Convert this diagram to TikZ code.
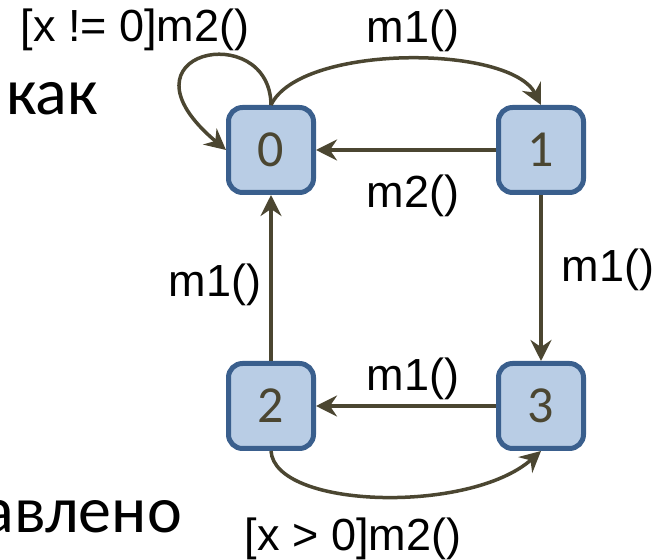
\documentclass[tikz,border=0pt]{standalone}
\usepackage{fontspec}
\setmainfont{Carlito}
\newfontfamily\arialf{Liberation Sans}
\usetikzlibrary{arrows.meta}
\definecolor{edgec}{HTML}{4B4631}
\definecolor{boxline}{HTML}{3A5F8D}
\definecolor{boxfill}{HTML}{B9CDE5}
\tikzset{
  state/.style={draw=boxline, fill=boxfill, line width=5pt, rounded corners=14pt,
    minimum width=85pt, minimum height=85pt, inner sep=0pt, text=edgec,
    font=\fontsize{52}{58}\selectfont},
  trans/.style={draw=edgec, line width=3.5pt, -{Stealth[length=21pt,width=21pt,inset=7pt]}},
  lbl/.style={inner sep=0pt, font=\arialf\fontsize{45}{50}\selectfont, text=black},
  slide/.style={inner sep=0pt, font=\fontsize{66}{70}\selectfont, text=black}
}
\begin{document}
\begin{tikzpicture}[x=1pt,y=1pt]
\useasboundingbox (0,0) rectangle (663,559);
\clip (0,0) rectangle (663,559);
% slide text fragments
\node[slide, anchor=base west] (t1) at (6,444) {как};
\node[slide, anchor=base east] (t2) at (182,27) {авлено};
% states
\node[state] (s0) at (271,409) {0};
\node[state] (s1) at (541,409) {1};
\node[state] (s2) at (271,153) {2};
\node[state] (s3) at (541,153) {3};
% transitions
\draw[trans] (s0.north) .. controls (270,541) and (108,508) .. (s0.west);
\draw[trans] (s0.north) .. controls (300,515) and (510,515) .. (s1.north);
\draw[trans] (s1.west) -- (s0.east);
\draw[trans] (s1.south) -- (s3.north);
\draw[trans] (s3.west) -- (s2.east);
\draw[trans] (s2.north) -- (s0.south);
\draw[trans] (s2.south) .. controls (275,50) and (470,45) .. (s3.south);
% labels
\node[lbl] (l00) at (135,529) {[x != 0]m2()};
\node[lbl] (l01) at (413,528) {m1()};
\node[lbl] (l10) at (413,363) {m2()};
\node[lbl] (l13) at (608,289) {m1()};
\node[lbl] (l32) at (413,180) {m1()};
\node[lbl] (l20) at (215,274) {m1()};
\node[lbl] (l23) at (353,20) {[x > 0]m2()};
\end{tikzpicture}
\end{document}
